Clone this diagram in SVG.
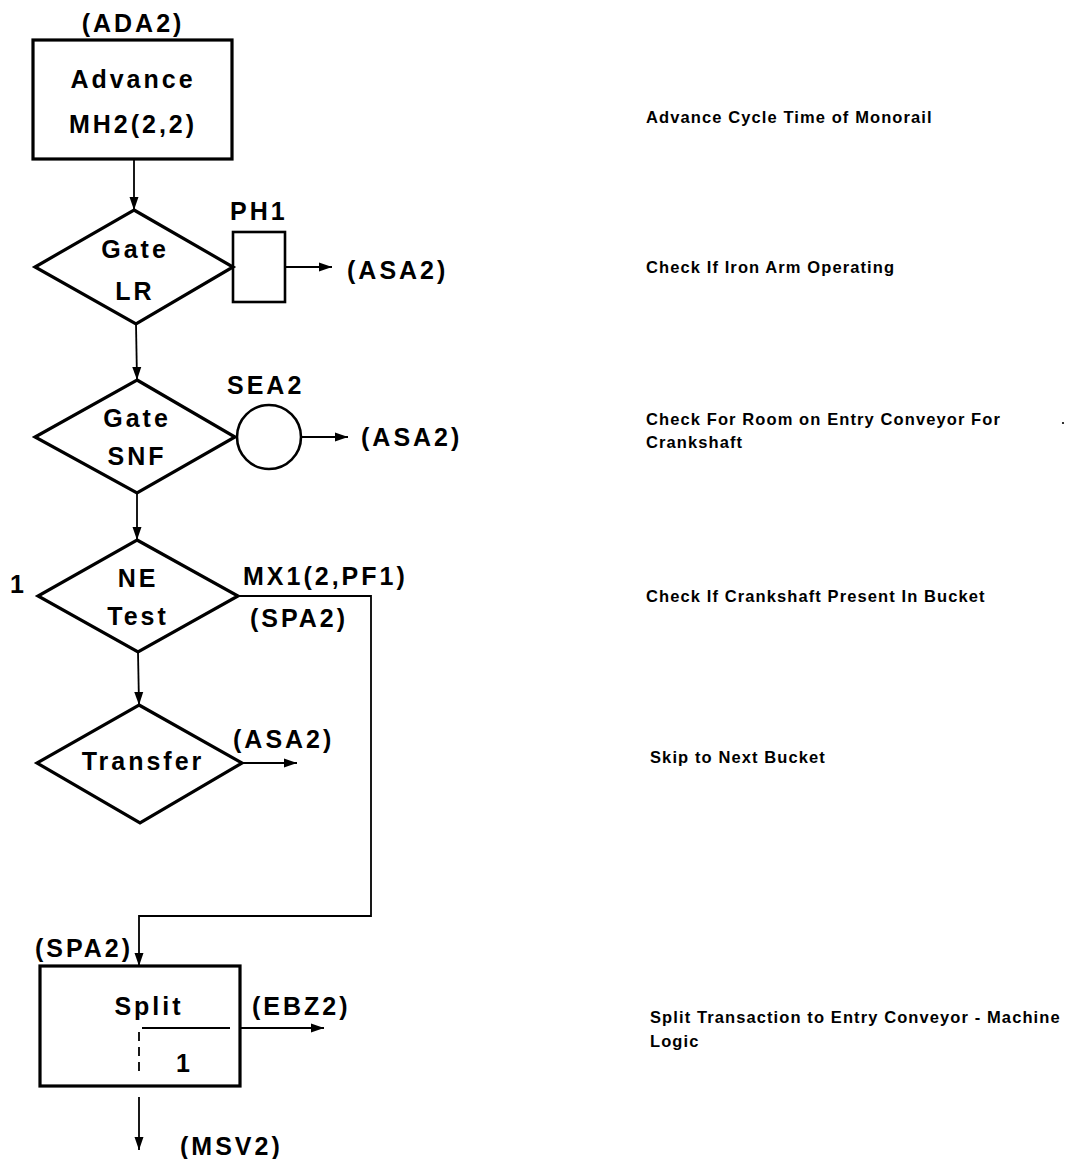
<svg xmlns="http://www.w3.org/2000/svg" width="1077" height="1159" viewBox="0 0 1077 1159">
<defs>
<style>
.shape{fill:none;stroke:#000;stroke-width:3.2;stroke-linejoin:miter}
.conn{fill:none;stroke:#000;stroke-width:1.8}
.lbl{font-family:"Liberation Sans",Arial,sans-serif;font-weight:bold;font-size:25px;letter-spacing:3px;fill:#000}
.mid{text-anchor:middle}
.note{font-family:"Liberation Sans",Arial,sans-serif;font-weight:bold;font-size:16.5px;letter-spacing:1.1px;fill:#000}
</style>
<marker id="ah" markerUnits="userSpaceOnUse" markerWidth="14" markerHeight="10" refX="13" refY="5" orient="auto">
<path d="M0,0.5 L13,5 L0,9.5 z" fill="#000"/>
</marker>
</defs>
<rect width="1077" height="1159" fill="#fff"/>

<g id="connectors">
<line class="conn" x1="134" y1="159" x2="134" y2="210" marker-end="url(#ah)"/>
<line class="conn" x1="136" y1="324" x2="137" y2="380" marker-end="url(#ah)"/>
<line class="conn" x1="137" y1="493" x2="137" y2="540" marker-end="url(#ah)"/>
<line class="conn" x1="138" y1="652" x2="139" y2="705" marker-end="url(#ah)"/>
<polyline class="conn" points="238,596 371,596 371,916 139,916 139,966" marker-end="url(#ah)"/>
<line class="conn" x1="285" y1="267" x2="332" y2="267" marker-end="url(#ah)"/>
<line class="conn" x1="301" y1="437" x2="348" y2="437" marker-end="url(#ah)"/>
<line class="conn" x1="242" y1="763" x2="297" y2="763" marker-end="url(#ah)"/>
<line class="conn" x1="240" y1="1028" x2="324" y2="1028" marker-end="url(#ah)"/>
<line class="conn" x1="139" y1="1097" x2="139" y2="1150" marker-end="url(#ah)"/>
</g>

<g id="advance">
<text class="lbl mid" x="133" y="32">(ADA2)</text>
<rect class="shape" x="33" y="40" width="199" height="119"/>
<text class="lbl mid" x="133" y="88">Advance</text>
<text class="lbl mid" x="133" y="133">MH2(2,2)</text>
</g>

<g id="gate-lr">
<polygon class="shape" points="134,210 233,267 136,324 35,267"/>
<text class="lbl mid" x="135" y="258">Gate</text>
<text class="lbl mid" x="135" y="300">LR</text>
</g>

<g id="ph1">
<text class="lbl" x="230" y="220">PH1</text>
<rect class="shape" x="233" y="232" width="52" height="70" style="stroke-width:2.6"/>
<text class="lbl" x="347" y="279">(ASA2)</text>
</g>

<g id="gate-snf">
<polygon class="shape" points="137,380 235,437 137,493 35,437"/>
<text class="lbl mid" x="137" y="427">Gate</text>
<text class="lbl mid" x="137" y="465">SNF</text>
</g>

<g id="sea2">
<text class="lbl" x="227" y="394">SEA2</text>
<circle class="shape" cx="269" cy="437" r="32" style="stroke-width:2.6"/>
<text class="lbl" x="361" y="446">(ASA2)</text>
</g>

<g id="ne-test">
<text class="lbl" x="10" y="593">1</text>
<polygon class="shape" points="137,540 238,596 138,652 38,596"/>
<text class="lbl mid" x="138" y="587">NE</text>
<text class="lbl mid" x="138" y="625">Test</text>
<text class="lbl" x="243" y="585">MX1(2,PF1)</text>
<text class="lbl" x="250" y="627">(SPA2)</text>
</g>

<g id="transfer">
<polygon class="shape" points="139,705 242,763 140,823 37,763"/>
<text class="lbl mid" x="143" y="770">Transfer</text>
<text class="lbl" x="233" y="748">(ASA2)</text>
</g>

<g id="split">
<text class="lbl" x="35" y="957">(SPA2)</text>
<rect class="shape" x="40" y="966" width="200" height="120"/>
<text class="lbl mid" x="149" y="1015">Split</text>
<line class="conn" x1="142" y1="1028" x2="230" y2="1028"/>
<line class="conn" x1="139" y1="1032" x2="139" y2="1077" stroke-dasharray="9,6"/>
<text class="lbl" x="176" y="1072">1</text>
<text class="lbl" x="252" y="1015">(EBZ2)</text>
<text class="lbl" x="180" y="1155">(MSV2)</text>
</g>

<g id="notes">
<text class="note" x="646" y="123">Advance Cycle Time of Monorail</text>
<text class="note" x="646" y="273">Check If Iron Arm Operating</text>
<text class="note" x="646" y="425">Check For Room on Entry Conveyor For</text>
<text class="note" x="646" y="448">Crankshaft</text>
<circle cx="1063" cy="423" r="1.1" fill="#000"/>
<text class="note" x="646" y="602">Check If Crankshaft Present In Bucket</text>
<text class="note" x="650" y="763">Skip to Next Bucket</text>
<text class="note" x="650" y="1023">Split Transaction to Entry Conveyor - Machine</text>
<text class="note" x="650" y="1047">Logic</text>
</g>
</svg>
